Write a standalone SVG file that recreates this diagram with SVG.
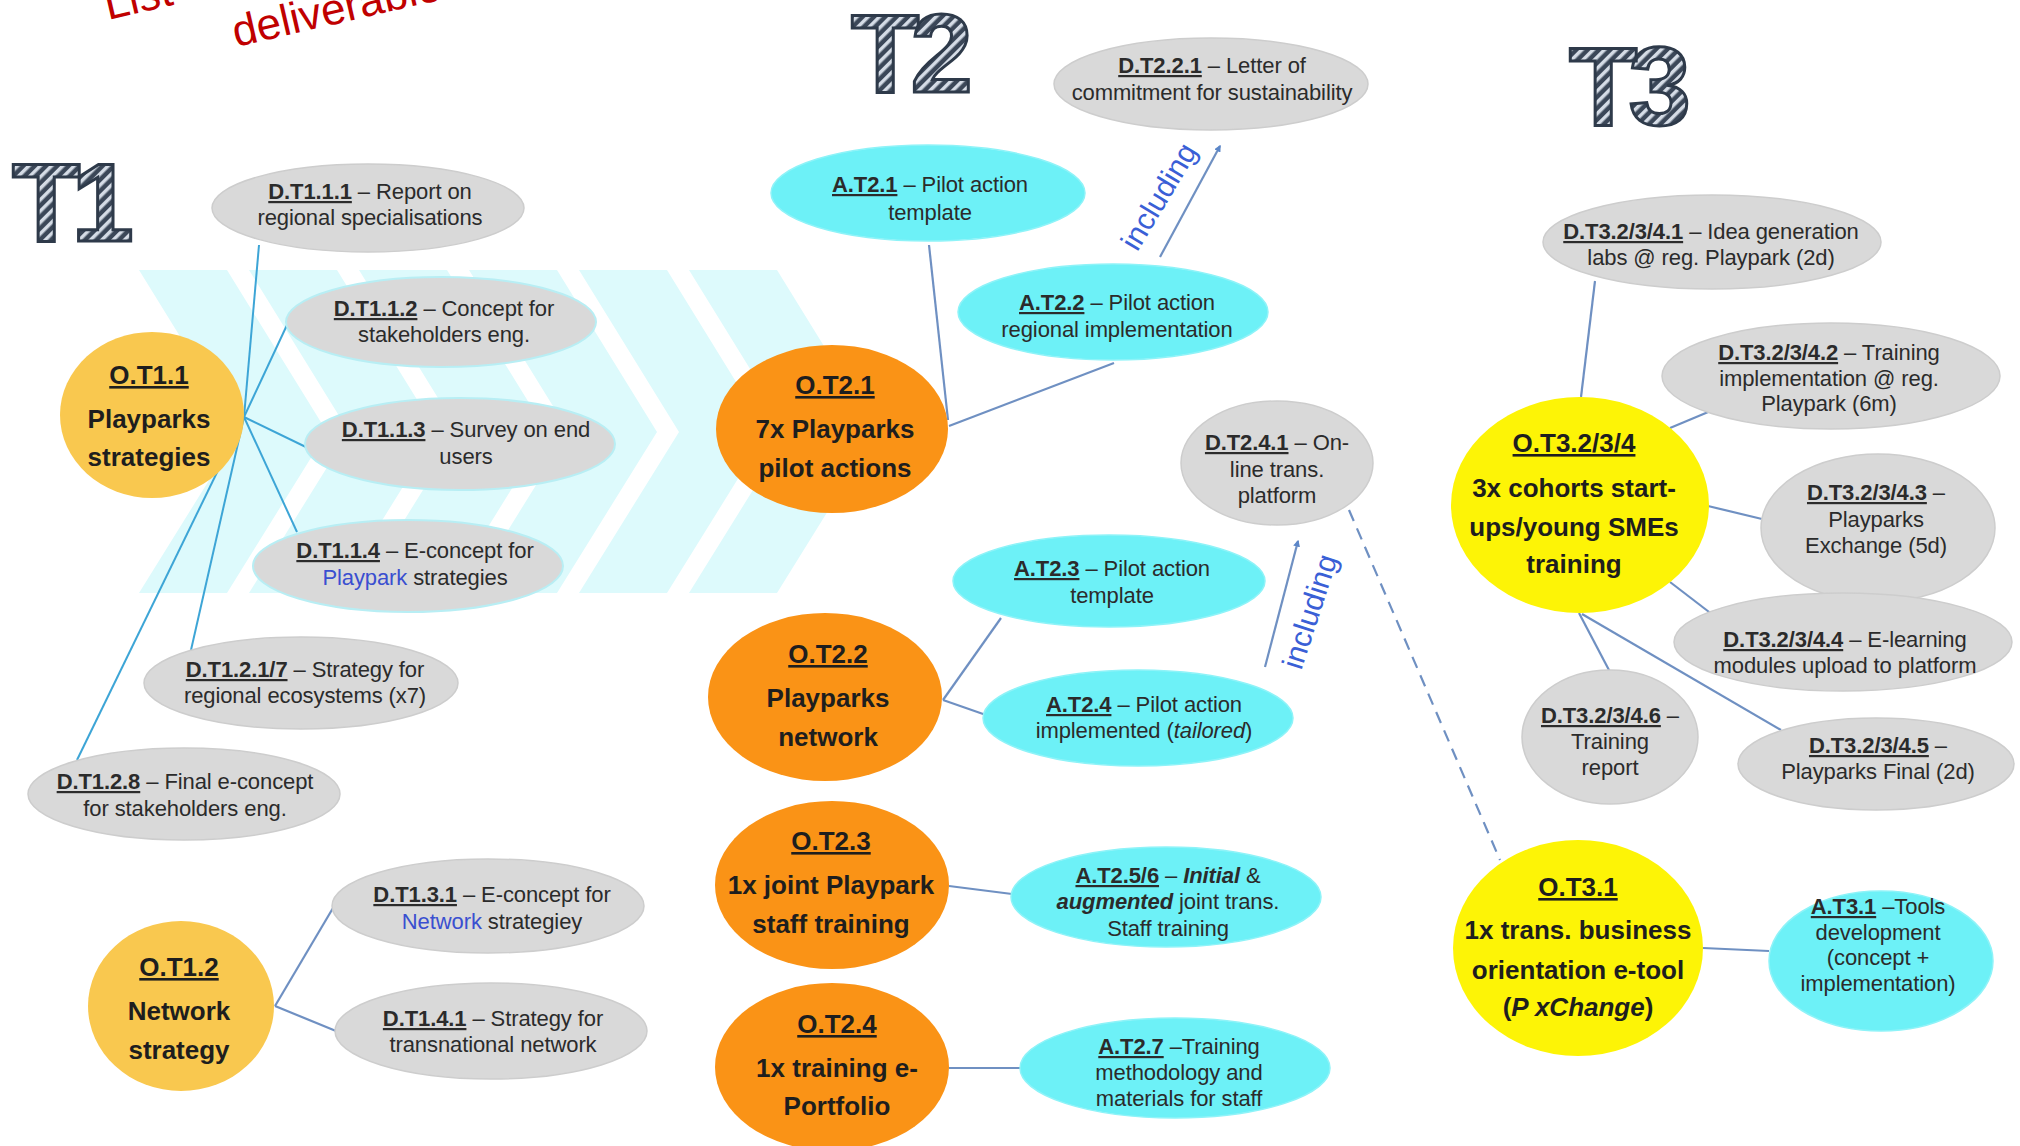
<svg xmlns="http://www.w3.org/2000/svg" width="2020" height="1146" viewBox="0 0 2020 1146">
<defs>
<pattern id="hatch" patternUnits="userSpaceOnUse" width="8" height="8" patternTransform="rotate(45)">
<rect width="8" height="8" fill="#3B4758"/>
<rect width="3.5" height="8" fill="#D5DCE6"/>
</pattern>
<marker id="arr" viewBox="0 0 10 10" refX="8" refY="5" markerWidth="7" markerHeight="7" orient="auto-start-reverse" markerUnits="userSpaceOnUse">
<path d="M0,0 L10,5 L0,10 z" fill="#5B86C8"/>
</marker>
<style>
.bg{fill:#DDFAFC}
.g{fill:#D9D9D9;stroke:#CDCDCD;stroke-width:1.5}
.gc{fill:#D9D9D9;stroke:#B8EEF4;stroke-width:2}
.c{fill:#6DF1F7;stroke:#8EF3F8;stroke-width:1.5}
.o{fill:#FA9316}
.y1{fill:#F9C84F}
.y3{fill:#FDF406}
.t{font-family:"Liberation Sans",Arial,sans-serif;font-size:22px;fill:#2B2B2B;text-anchor:middle;letter-spacing:-0.1px}
.b{font-family:"Liberation Sans",Arial,sans-serif;font-size:26px;font-weight:bold;fill:#1E1E1E;text-anchor:middle}
.u{text-decoration:underline;font-weight:bold}
.blue{fill:#3A4FD0}
.big{font-family:"Liberation Sans",Arial,sans-serif;font-size:112px;font-weight:bold;fill:url(#hatch);stroke:#2E3A4A;stroke-width:3;letter-spacing:-9px}
.l1{stroke:#3DA5D6;stroke-width:2;fill:none}
.l2{stroke:#6F90C2;stroke-width:2.2;fill:none}
.inc{font-family:"Liberation Sans",Arial,sans-serif;font-size:30px;fill:#3A5FD6;text-anchor:middle}
</style>
</defs>
<rect width="2020" height="1146" fill="#FFFFFF"/>

<g id="band">
<polygon class="bg" points="139,270 227,270 327,432 227,593 139,593 239,432"/>
<polygon class="bg" points="249,270 337,270 437,432 337,593 249,593 349,432"/>
<polygon class="bg" points="359,270 447,270 547,432 447,593 359,593 459,432"/>
<polygon class="bg" points="469,270 557,270 657,432 557,593 469,593 569,432"/>
<polygon class="bg" points="579,270 667,270 767,432 667,593 579,593 679,432"/>
<polygon class="bg" points="689,270 777,270 877,432 777,593 689,593 789,432"/>
</g>

<g id="title">
<text font-family="Liberation Sans, Arial, sans-serif" font-size="44" fill="#C00000" transform="translate(108,20) rotate(-13)">List</text>
<text font-family="Liberation Sans, Arial, sans-serif" font-size="44" fill="#C00000" transform="translate(236,47) rotate(-13)">deliverable</text>
<text class="big" x="12" y="241">T1</text>
<text class="big" x="851" y="92">T2</text>
<text class="big" x="1569" y="125">T3</text>
</g>

<g id="connectors">
<line class="l1" x1="244" y1="417" x2="259" y2="245"/>
<line class="l1" x1="244" y1="417" x2="287" y2="325"/>
<line class="l1" x1="244" y1="417" x2="310" y2="449"/>
<line class="l1" x1="244" y1="417" x2="297" y2="532"/>
<line class="l1" x1="244" y1="417" x2="191" y2="650"/>
<line class="l1" x1="244" y1="417" x2="77" y2="760"/>
<line class="l2" x1="275" y1="1006" x2="333" y2="908"/>
<line class="l2" x1="275" y1="1006" x2="336" y2="1031"/>
<line class="l2" x1="929" y1="245" x2="948" y2="420"/>
<line class="l2" x1="1114" y1="363" x2="949" y2="426"/>
<line class="l2" x1="1001" y1="618" x2="943" y2="700"/>
<line class="l2" x1="986" y1="715" x2="943" y2="700"/>
<line class="l2" x1="949" y1="886" x2="1012" y2="894"/>
<line class="l2" x1="949" y1="1068" x2="1021" y2="1068"/>
<line class="l2" x1="1595" y1="281" x2="1581" y2="397"/>
<line class="l2" x1="1713" y1="410" x2="1670" y2="428"/>
<line class="l2" x1="1762" y1="519" x2="1708" y2="506"/>
<line class="l2" x1="1726" y1="625" x2="1670" y2="582"/>
<line class="l2" x1="1610" y1="672" x2="1579" y2="613"/>
<line class="l2" x1="1781" y1="730" x2="1582" y2="614"/>
<line class="l2" x1="1703" y1="948" x2="1769" y2="951"/>
<line class="l2" x1="1349" y1="510" x2="1500" y2="860" stroke-dasharray="12,8"/>
<line class="l2" x1="1160" y1="257" x2="1220" y2="146" marker-end="url(#arr)"/>
<line class="l2" x1="1265" y1="667" x2="1298" y2="541" marker-end="url(#arr)"/>
<text class="inc" transform="translate(1160,197) rotate(-59)" y="9">including</text>
<text class="inc" transform="translate(1311,612) rotate(-72)" y="9">including</text>
</g>

<g id="O.T1.1"><ellipse class="y1" cx="152" cy="415" rx="92" ry="83"/>
<text class="b"><tspan class="u" x="149" y="384">O.T1.1</tspan><tspan x="149" y="428">Playparks</tspan><tspan x="149" y="466">strategies</tspan></text></g>
<g id="D.T1.1.1"><ellipse class="g" cx="368" cy="208" rx="156" ry="44"/>
<text class="t"><tspan x="370" y="199"><tspan class="u">D.T1.1.1</tspan> – Report on</tspan><tspan x="370" y="225">regional specialisations</tspan></text></g>
<g id="D.T1.1.2"><ellipse class="gc" cx="441" cy="322" rx="155" ry="45"/>
<text class="t"><tspan x="444" y="316"><tspan class="u">D.T1.1.2</tspan> – Concept for</tspan><tspan x="444" y="342">stakeholders eng.</tspan></text></g>
<g id="D.T1.1.3"><ellipse class="gc" cx="460" cy="444" rx="155" ry="46"/>
<text class="t"><tspan x="466" y="437"><tspan class="u">D.T1.1.3</tspan> – Survey on end</tspan><tspan x="466" y="464">users</tspan></text></g>
<g id="D.T1.1.4"><ellipse class="gc" cx="408" cy="566" rx="155" ry="46"/>
<text class="t"><tspan x="415" y="558"><tspan class="u">D.T1.1.4</tspan> – E-concept for</tspan><tspan x="415" y="585"><tspan class="blue">Playpark</tspan> strategies</tspan></text></g>
<g id="D.T1.2.1-7"><ellipse class="g" cx="301" cy="683" rx="157" ry="46"/>
<text class="t"><tspan x="305" y="677"><tspan class="u">D.T1.2.1/7</tspan> – Strategy for</tspan><tspan x="305" y="703">regional ecosystems (x7)</tspan></text></g>
<g id="D.T1.2.8"><ellipse class="g" cx="184" cy="794" rx="156" ry="46"/>
<text class="t"><tspan x="185" y="789"><tspan class="u">D.T1.2.8</tspan> – Final e-concept</tspan><tspan x="185" y="816">for stakeholders eng.</tspan></text></g>
<g id="O.T1.2"><ellipse class="y1" cx="181" cy="1006" rx="93" ry="85"/>
<text class="b"><tspan class="u" x="179" y="976">O.T1.2</tspan><tspan x="179" y="1020">Network</tspan><tspan x="179" y="1059">strategy</tspan></text></g>
<g id="D.T1.3.1"><ellipse class="g" cx="488" cy="906" rx="156" ry="47"/>
<text class="t"><tspan x="492" y="902"><tspan class="u">D.T1.3.1</tspan> – E-concept for</tspan><tspan x="492" y="929"><tspan class="blue">Network</tspan> strategiey</tspan></text></g>
<g id="D.T1.4.1"><ellipse class="g" cx="491" cy="1031" rx="156" ry="48"/>
<text class="t"><tspan x="493" y="1026"><tspan class="u">D.T1.4.1</tspan> – Strategy for</tspan><tspan x="493" y="1052">transnational network</tspan></text></g>

<g id="D.T2.2.1"><ellipse class="g" cx="1211" cy="84" rx="157" ry="46"/>
<text class="t"><tspan x="1212" y="73"><tspan class="u">D.T2.2.1</tspan> – Letter of</tspan><tspan x="1212" y="100">commitment for sustainability</tspan></text></g>
<g id="A.T2.1"><ellipse class="c" cx="928" cy="193" rx="157" ry="48"/>
<text class="t"><tspan x="930" y="192"><tspan class="u">A.T2.1</tspan> – Pilot action</tspan><tspan x="930" y="220">template</tspan></text></g>
<g id="A.T2.2"><ellipse class="c" cx="1113" cy="312" rx="155" ry="48"/>
<text class="t"><tspan x="1117" y="310"><tspan class="u">A.T2.2</tspan> – Pilot action</tspan><tspan x="1117" y="337">regional implementation</tspan></text></g>
<g id="O.T2.1"><ellipse class="o" cx="832" cy="429" rx="116" ry="84"/>
<text class="b"><tspan class="u" x="835" y="394">O.T2.1</tspan><tspan x="835" y="438">7x Playparks</tspan><tspan x="835" y="477">pilot  actions</tspan></text></g>
<g id="D.T2.4.1"><ellipse class="g" cx="1277" cy="463" rx="96" ry="62"/>
<text class="t"><tspan x="1277" y="450"><tspan class="u">D.T2.4.1</tspan> – On-</tspan><tspan x="1277" y="477">line trans.</tspan><tspan x="1277" y="503">platform</tspan></text></g>
<g id="A.T2.3"><ellipse class="c" cx="1109" cy="581" rx="156" ry="46"/>
<text class="t"><tspan x="1112" y="576"><tspan class="u">A.T2.3</tspan> – Pilot action</tspan><tspan x="1112" y="603">template</tspan></text></g>
<g id="O.T2.2"><ellipse class="o" cx="825" cy="697" rx="117" ry="84"/>
<text class="b"><tspan class="u" x="828" y="663">O.T2.2</tspan><tspan x="828" y="707">Playparks</tspan><tspan x="828" y="746">network</tspan></text></g>
<g id="A.T2.4"><ellipse class="c" cx="1138" cy="718" rx="155" ry="48"/>
<text class="t"><tspan x="1144" y="712"><tspan class="u">A.T2.4</tspan> – Pilot action</tspan><tspan x="1144" y="738">implemented (<tspan font-style="italic">tailored</tspan>)</tspan></text></g>
<g id="O.T2.3"><ellipse class="o" cx="832" cy="885" rx="117" ry="84"/>
<text class="b"><tspan class="u" x="831" y="850">O.T2.3</tspan><tspan x="831" y="894">1x joint  Playpark</tspan><tspan x="831" y="933">staff training</tspan></text></g>
<g id="A.T2.5-6"><ellipse class="c" cx="1166" cy="897" rx="155" ry="50"/>
<text class="t"><tspan x="1168" y="883"><tspan class="u">A.T2.5/6</tspan> – <tspan font-weight="bold" font-style="italic">Initial</tspan> &amp;</tspan><tspan x="1168" y="909"><tspan font-weight="bold" font-style="italic">augmented</tspan> joint trans.</tspan><tspan x="1168" y="936">Staff training</tspan></text></g>
<g id="O.T2.4"><ellipse class="o" cx="832" cy="1067" rx="117" ry="84"/>
<text class="b"><tspan class="u" x="837" y="1033">O.T2.4</tspan><tspan x="837" y="1077">1x training e-</tspan><tspan x="837" y="1115">Portfolio</tspan></text></g>
<g id="A.T2.7"><ellipse class="c" cx="1175" cy="1068" rx="155" ry="50"/>
<text class="t"><tspan x="1179" y="1054"><tspan class="u">A.T2.7</tspan> –Training</tspan><tspan x="1179" y="1080">methodology and</tspan><tspan x="1179" y="1106">materials for staff</tspan></text></g>

<g id="D.T3.2-3-4.1"><ellipse class="g" cx="1712" cy="242" rx="169" ry="47"/>
<text class="t"><tspan x="1711" y="239"><tspan class="u">D.T3.2/3/4.1</tspan> – Idea generation</tspan><tspan x="1711" y="265">labs @ reg. Playpark (2d)</tspan></text></g>
<g id="D.T3.2-3-4.2"><ellipse class="g" cx="1831" cy="376" rx="169" ry="53"/>
<text class="t"><tspan x="1829" y="360"><tspan class="u">D.T3.2/3/4.2</tspan> – Training</tspan><tspan x="1829" y="386">implementation @ reg.</tspan><tspan x="1829" y="411">Playpark (6m)</tspan></text></g>
<g id="O.T3.2-3-4"><ellipse class="y3" cx="1580" cy="505" rx="129" ry="108"/>
<text class="b"><tspan class="u" x="1574" y="452">O.T3.2/3/4</tspan><tspan x="1574" y="497">3x cohorts start-</tspan><tspan x="1574" y="536">ups/young  SMEs</tspan><tspan x="1574" y="573">training</tspan></text></g>
<g id="D.T3.2-3-4.3"><ellipse class="g" cx="1878" cy="528" rx="117" ry="74"/>
<text class="t"><tspan x="1876" y="500"><tspan class="u">D.T3.2/3/4.3</tspan> –</tspan><tspan x="1876" y="527">Playparks</tspan><tspan x="1876" y="553">Exchange (5d)</tspan></text></g>
<g id="D.T3.2-3-4.4"><ellipse class="g" cx="1843" cy="642" rx="169" ry="49"/>
<text class="t"><tspan x="1845" y="647"><tspan class="u">D.T3.2/3/4.4</tspan> – E-learning</tspan><tspan x="1845" y="673">modules upload to platform</tspan></text></g>
<g id="D.T3.2-3-4.6"><ellipse class="g" cx="1610" cy="737" rx="88" ry="67"/>
<text class="t"><tspan x="1610" y="723"><tspan class="u">D.T3.2/3/4.6</tspan> –</tspan><tspan x="1610" y="749">Training</tspan><tspan x="1610" y="775">report</tspan></text></g>
<g id="D.T3.2-3-4.5"><ellipse class="g" cx="1876" cy="764" rx="138" ry="46"/>
<text class="t"><tspan x="1878" y="753"><tspan class="u">D.T3.2/3/4.5</tspan> –</tspan><tspan x="1878" y="779">Playparks Final (2d)</tspan></text></g>
<g id="O.T3.1"><ellipse class="y3" cx="1578" cy="948" rx="125" ry="108"/>
<text class="b"><tspan class="u" x="1578" y="896">O.T3.1</tspan><tspan x="1578" y="939">1x trans. business</tspan><tspan x="1578" y="979">orientation  e-tool</tspan><tspan x="1578" y="1016">(<tspan font-style="italic">P xChange</tspan>)</tspan></text></g>
<g id="A.T3.1"><ellipse class="c" cx="1881" cy="961" rx="112" ry="70"/>
<text class="t"><tspan x="1878" y="914"><tspan class="u">A.T3.1</tspan> –Tools</tspan><tspan x="1878" y="940">development</tspan><tspan x="1878" y="965">(concept +</tspan><tspan x="1878" y="991">implementation)</tspan></text></g>
</svg>
